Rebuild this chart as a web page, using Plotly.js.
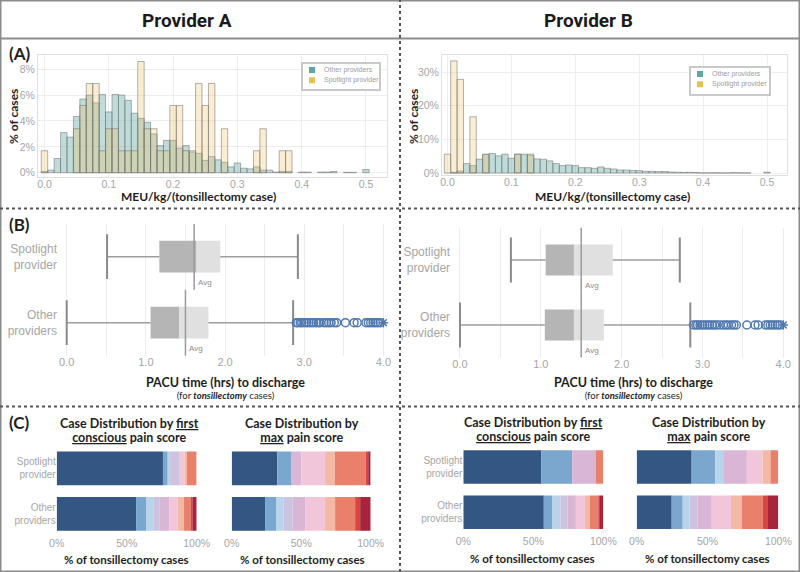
<!DOCTYPE html>
<html>
<head>
<meta charset="utf-8">
<script src="https://cdn.plot.ly/plotly-3.0.1.min.js"></script>
<style>
  body { margin: 0; background: #fff; }
  #chart { width: 800px; height: 572px; }
</style>
</head>
<body>
<div id="chart"></div>
<script>
// (A) MEU/kg histogram, bin centres and % of cases per bin
const binCenters = [0.00, 0.01, 0.02, 0.03, 0.04, 0.05, 0.06, 0.07, 0.08, 0.09,
    0.10, 0.11, 0.12, 0.13, 0.14, 0.15, 0.16, 0.17, 0.18, 0.19,
    0.20, 0.21, 0.22, 0.23, 0.24, 0.25, 0.26, 0.27, 0.28, 0.29,
    0.30, 0.31, 0.32, 0.33, 0.34, 0.35, 0.36, 0.37, 0.38, 0.39,
    0.40, 0.41, 0.42, 0.43, 0.44, 0.45, 0.46, 0.47, 0.48, 0.49, 0.50];

const histOtherA = [0.1, 0.2, 1.1, 3.1, 2.75, 4.35, 5.7, 6.0, 5.4, 6.05,
    4.7, 6.05, 6.0, 5.6, 4.6, 4.2, 3.9, 3.0, 2.1, 2.5,
    2.5, 1.9, 2.1, 1.6, 1.5, 0.95, 1.25, 1.0, 0.8, 0.45,
    0.75, 0.35, 0.3, 0.45, 0.2, 0.2, 0.05, 0.1, 0.1, 0,
    0.05, 0.05, 0, 0.05, 0.05, 0.1, 0, 0.03, 0.03, 0, 0.25];
const histSpotA = [1.7, 0, 0, 0, 0, 3.4, 5.2, 6.9, 6.9, 1.7,
    3.4, 3.4, 1.7, 1.7, 1.7, 8.6, 3.4, 3.4, 1.7, 1.7,
    5.2, 5.2, 1.7, 1.7, 6.9, 5.2, 6.9, 0, 3.4, 0,
    0, 0, 0, 1.7, 3.4, 0, 0, 1.7, 1.7, 0,
    0, 0, 0, 0, 0, 0, 0, 0, 0, 0, 0];

const histOtherB = [0, 0.2, 0.6, 2.8, 2.2, 4.1, 5.5, 5.8, 5.1, 5.6,
    4.4, 5.6, 5.6, 5.3, 4.2, 4.1, 3.6, 2.8, 2.2, 2.4,
    2.2, 1.6, 1.6, 1.4, 1.8, 1.4, 1.2, 0.9, 0.9, 0.75,
    0.7, 0.5, 0.5, 0.4, 0.45, 0.3, 0.25, 0.2, 0.2, 0.15,
    0.05, 0.05, 0.05, 0.03, 0.05, 0.1, 0.03, 0.03, 0, 0, 0.25];
const histSpotB = [5.6, 33.3, 27.8, 0, 16.7, 0, 5.6, 0, 0, 0,
    0, 5.6, 0, 5.6, 0, 0, 0, 0, 0, 0,
    0, 0, 0, 0, 0, 0, 0, 0, 0, 0,
    0, 0, 0, 0, 0, 0, 0, 0, 0, 0,
    0, 0, 0, 0, 0, 0, 0, 0, 0, 0, 0];
const histSeries = ['Other providers', 'Spotlight provider'];

// (B) PACU time, rows are [Other providers, Spotlight provider]
const boxRows = ['Other<br>providers', 'Spotlight<br>provider'];
const lowA = [0.0, 0.51];
const q1A = [1.06, 1.17];
const medA = [1.42, 1.64];
const q3A = [1.79, 1.94];
const highA = [2.86, 2.92];
const avgA = [1.50, 1.61];
const lowB = [0.0, 0.63];
const q1B = [1.05, 1.06];
const medB = [1.41, 1.41];
const q3B = [1.78, 1.89];
const highB = [2.85, 2.72];
const avgB = [1.50, 1.50];
const outliersA = [2.90, 2.92, 2.95, 2.97, 3.00, 3.03, 3.06, 3.09, 3.12, 3.15, 3.18, 3.20,
    3.25, 3.28, 3.31, 3.34, 3.38, 3.41, 3.52, 3.63, 3.67, 3.78, 3.81, 3.84, 3.87, 3.90, 3.93, 3.96];
const outliersB = [2.89, 2.92, 2.94, 2.97, 3.00, 3.03, 3.06, 3.09, 3.12, 3.15, 3.18, 3.22,
    3.26, 3.29, 3.32, 3.36, 3.39, 3.42, 3.55, 3.65, 3.69, 3.78, 3.81, 3.84, 3.87, 3.90, 3.93, 3.96];
const beyondA = [4.0];
const beyondB = [4.0];

// (C) pain score distribution, % of cases per score level
const painColors = ['#345682', '#7ba6cd', '#b8d4ea', '#cbc3e0', '#d9b5d6',
    '#f2c6da', '#f4b9a5', '#e8806b', '#d8463f', '#a6243c'];
const firstOtherA = [56.7, 7.1, 5.2, 4.3, 7.1, 6.0, 4.5, 5.0, 1.0, 3.1];
const firstSpotA = [75.9, 3.4, 1.7, 6.9, 0, 3.4, 1.7, 6.9, 0, 0];
const maxOtherA = [24.0, 7.9, 5.3, 6.7, 8.9, 14.4, 7.2, 14.4, 3.6, 7.6];
const maxSpotA = [32.8, 10.3, 0, 0, 6.9, 17.2, 6.9, 22.4, 1.7, 1.7];
const firstOtherB = [57.5, 6.2, 5.7, 5.0, 6.0, 6.4, 3.6, 6.0, 0.7, 2.9];
const firstSpotB = [55.6, 22.2, 0, 0, 16.7, 0, 0, 5.5, 0, 0];
const maxOtherB = [24.7, 7.8, 4.7, 5.9, 9.9, 13.6, 7.5, 14.8, 3.3, 7.8];
const maxSpotB = [38.8, 16.7, 5.6, 0, 16.7, 11.1, 5.6, 5.5, 0, 0];

const config = {
    displayModeBar: false,
    staticPlot: true
}

const W = 800, H = 572;
function px(x) { return x / W; }
function py(y) { return 1 - y / H; }

const gray = '#a6a6a6';
const sansFont = 'Liberation Sans, Arial, sans-serif';
const tickFont = { family: sansFont, color: gray };
const swatchColors = ['#5fa9a5', '#e8c24c'];

function histTraces(other, spot, xa, ya) {
    var teal = {
        type: 'bar', name: histSeries[0], x: binCenters, y: other.map(v => v > 0 ? v : null),
        xaxis: xa, yaxis: ya, width: 0.01, showlegend: false, hoverinfo: 'skip',
        marker: { color: 'rgba(94,168,166,0.40)', line: { color: 'rgba(115,115,115,0.55)', width: 1 } }
    }
    var gold = {
        type: 'bar', name: histSeries[1], x: binCenters, y: spot.map(v => v > 0 ? v : null),
        xaxis: xa, yaxis: ya, width: 0.01, showlegend: false, hoverinfo: 'skip',
        marker: { color: 'rgba(240,188,88,0.27)', line: { color: 'rgba(115,115,115,0.55)', width: 1 } }
    }
    return [teal, gold];
}

// small framed legend like the original (box, two swatches, two labels)
function legendBox(x0, y0, x1, y1) {
    var shapes = [{
        type: 'rect', xref: 'paper', yref: 'paper', x0: px(x0), x1: px(x1), y0: py(y1), y1: py(y0),
        fillcolor: '#ffffff', line: { color: '#c9c9c9', width: 2 }
    }];
    var notes = [];
    histSeries.forEach((name, i) => {
        var yc = y0 + 7 + i * 10.3;
        shapes.push({
            type: 'rect', xref: 'paper', yref: 'paper', x0: px(x0 + 7), x1: px(x0 + 13),
            y0: py(yc + 3), y1: py(yc - 3), fillcolor: swatchColors[i], line: { width: 0 }
        });
        notes.push({
            xref: 'paper', yref: 'paper', x: px(x0 + 20), y: py(yc), text: name, showarrow: false,
            xanchor: 'left', yanchor: 'middle', font: { family: sansFont, size: 7, color: '#9c9c9c' }
        });
    });
    return { shapes: shapes, notes: notes };
}

function boxTraces(low, q1, med, q3, high, avg, outl, beyond, xa, ya) {
    var rows = [0, 1];
    var common = { xaxis: xa, yaxis: ya, showlegend: false, hoverinfo: 'skip' };
    var dark = Object.assign({
        type: 'bar', orientation: 'h', y: rows, base: q1,
        x: q1.map((v, i) => med[i] - v), width: 0.48, marker: { color: '#b5b5b5' }
    }, common);
    var light = Object.assign({
        type: 'bar', orientation: 'h', y: rows, base: med,
        x: med.map((v, i) => q3[i] - v), width: 0.48, marker: { color: '#e0e0e0' }
    }, common);

    var wx = [], wy = [], ax = [], ay = [];
    rows.forEach(i => {
        wx.push(low[i], q1[i], null, q3[i], high[i], null);
        wy.push(i, i, null, i, i, null);
        ax.push(avg[i], avg[i], null);
        ay.push(i - 0.5, i + 0.5, null);
    });
    var whisk = Object.assign({
        type: 'scatter', mode: 'lines', x: wx, y: wy, line: { color: '#9d9d9d', width: 1.5 }
    }, common);
    var caps = Object.assign({
        type: 'scatter', mode: 'markers', x: low.concat(high), y: rows.concat(rows),
        marker: { symbol: 'line-ns', size: 32, line: { color: '#8a8a8a', width: 2 } }
    }, common);
    var avgLine = Object.assign({
        type: 'scatter', mode: 'lines', x: ax, y: ay, line: { color: '#9a9a9a', width: 1.5 }
    }, common);
    var dots = Object.assign({
        type: 'scatter', mode: 'markers', x: outl, y: outl.map(() => 0),
        marker: { symbol: 'circle-open', size: 8, color: '#5079b0', line: { width: 1.5 } }
    }, common);
    var star = Object.assign({
        type: 'scatter', mode: 'markers', x: beyond, y: beyond.map(() => 0),
        marker: { symbol: 'asterisk-open', size: 8, color: '#5079b0', line: { width: 1.5, color: '#5079b0' } }
    }, common);
    return [dark, light, whisk, caps, avgLine, dots, star];
}

function stackTraces(otherVals, spotVals, xa, ya) {
    var traces = [];
    var baseOther = 0, baseSpot = 0;
    painColors.forEach((c, j) => {
        traces.push({
            type: 'bar', orientation: 'h', y: [0, 1], x: [otherVals[j], spotVals[j]],
            base: [baseOther, baseSpot], width: 0.74, marker: { color: c, line: { width: 0 } },
            xaxis: xa, yaxis: ya, showlegend: false, hoverinfo: 'skip'
        });
        baseOther += otherVals[j];
        baseSpot += spotVals[j];
    });
    return traces;
}

function avgNotes(avg, xa, ya) {
    return [0, 1].map(i => ({
        xref: xa, yref: ya, x: avg[i], y: i - 0.5, text: 'Avg', showarrow: false,
        xanchor: 'left', yanchor: 'bottom', xshift: 2, yshift: 1,
        font: { family: sansFont, size: 8, color: '#8c8c8c' }
    }));
}

function note(text, x, y, size, extra) {
    return Object.assign({
        xref: 'paper', yref: 'paper', x: px(x), y: py(y), text: text, showarrow: false,
        xanchor: 'center', yanchor: 'middle',
        font: { family: 'Lato, sans-serif', size: size, color: '#1e1e1e' }
    }, extra || {});
}

// two-line title: line spacing follows the base size, each line keeps its own size
function twoLines(a, b, sizeA, sizeB) {
    return '<span style="font-size:' + sizeA + 'px">' + a + '</span><br>' +
        '<span style="font-size:' + sizeB + 'px">' + b + '</span>';
}

function histX(anchor, d0, d1, r0, r1) {
    return {
        anchor: anchor, domain: [px(d0), px(d1)], range: [r0, r1], tick0: 0, dtick: 0.1, tickformat: '.1f',
        showgrid: true, gridcolor: '#eeeeee', zeroline: false, showline: true, mirror: true,
        linecolor: '#e0e0e0', ticks: '', ticklabelstandoff: -3, tickfont: Object.assign({ size: 10.5 }, tickFont)
    };
}
function histY(anchor, d0, d1, r0, r1, step) {
    return {
        anchor: anchor, domain: [py(d1), py(d0)], range: [r0, r1], tick0: 0, dtick: step,
        ticksuffix: '%', showgrid: true, gridcolor: '#eeeeee', zeroline: false, showline: true,
        mirror: true, linecolor: '#e0e0e0', ticks: '', tickfont: Object.assign({ size: 10.5 }, tickFont)
    };
}
function boxX(anchor, d0, d1) {
    return {
        anchor: anchor, domain: [px(d0), px(d1)], range: [-0.11, 4.08], tick0: 0, dtick: 1, tickformat: '.1f',
        showgrid: true, gridcolor: '#ececec', minor: { dtick: 0.5, showgrid: true, gridcolor: '#ececec' },
        zeroline: false, ticks: '', ticklabelstandoff: -2, tickfont: Object.assign({ size: 11 }, tickFont)
    };
}
function boxY(anchor, d0, d1) {
    return {
        anchor: anchor, domain: [py(d1), py(d0)], range: [-0.5, 1.5], tickvals: [0, 1], ticktext: boxRows,
        showgrid: false, zeroline: false, ticks: '', tickfont: Object.assign({ size: 12 }, tickFont)
    };
}
function stackX(anchor, d0, d1) {
    return {
        anchor: anchor, domain: [px(d0), px(d1)], range: [0, 100], tickvals: [0, 50, 100],
        ticktext: ['0%', '50%', '100%'], showgrid: false, zeroline: false, ticks: '',
        ticklabelstandoff: -1, tickfont: Object.assign({ size: 10.5 }, tickFont)
    };
}
function stackY(anchor, d0, d1, labels) {
    return {
        anchor: anchor, domain: [py(d1), py(d0)], range: [-0.5, 1.5], tickvals: [0, 1], ticktext: boxRows,
        showticklabels: labels, showgrid: false, zeroline: false, ticks: '',
        tickfont: Object.assign({ size: 10 }, tickFont)
    };
}

var data = [].concat(
    histTraces(histOtherA, histSpotA, 'x', 'y'),
    histTraces(histOtherB, histSpotB, 'x2', 'y2'),
    boxTraces(lowA, q1A, medA, q3A, highA, avgA, outliersA, beyondA, 'x3', 'y3'),
    boxTraces(lowB, q1B, medB, q3B, highB, avgB, outliersB, beyondB, 'x4', 'y4'),
    stackTraces(firstOtherA, firstSpotA, 'x5', 'y5'),
    stackTraces(maxOtherA, maxSpotA, 'x6', 'y6'),
    stackTraces(firstOtherB, firstSpotB, 'x7', 'y7'),
    stackTraces(maxOtherB, maxSpotB, 'x8', 'y8')
);

var legA = legendBox(302, 63, 380, 90);
var legB = legendBox(690, 67, 770, 95);
var dotted = { color: '#555555', width: 2, dash: 'dot' };

var pacuTitle = twoLines('<b>PACU time (hrs) to discharge</b>', '(for <b><i>tonsillectomy</i></b> cases)', 12.5, 9.5);
var firstTitle = twoLines('<b>Case Distribution by <u>first</u></b>', '<b><u>conscious</u> pain score</b>', 12.5, 12.5);
var maxTitle = twoLines('<b>Case Distribution by</b>', '<b><u>max</u> pain score</b>', 12.5, 12.5);

const layout = {
    width: W, height: H,
    margin: { l: 0, r: 0, t: 0, b: 0 },
    paper_bgcolor: '#ffffff', plot_bgcolor: '#ffffff',
    barmode: 'overlay',
    showlegend: false,
    xaxis: histX('y', 38, 387, -0.0101, 0.5327),
    yaxis: histY('x', 55, 177, -0.33, 9.1, 2),
    xaxis2: histX('y2', 442, 787, -0.0086, 0.5313),
    yaxis2: histY('x2', 55, 175, -0.59, 35.05, 10),
    xaxis3: boxX('y3', 58, 389.7),
    yaxis3: boxY('x3', 223.7, 355.7),
    xaxis4: boxX('y4', 451.1, 789.7),
    yaxis4: boxY('x4', 227.5, 357.5),
    xaxis5: stackX('y5', 56.7, 196.7),
    yaxis5: stackY('x5', 445.6, 536.6, true),
    xaxis6: stackX('y6', 231.7, 370.7),
    yaxis6: stackY('x6', 445.6, 536.6, false),
    xaxis7: stackX('y7', 463.3, 603.3),
    yaxis7: stackY('x7', 444.3, 534.8, true),
    xaxis8: stackX('y8', 636.7, 778.3),
    yaxis8: stackY('x8', 444.3, 534.8, false),
    shapes: [
        { type: 'rect', xref: 'paper', yref: 'paper', x0: 0, x1: 1, y0: 0, y1: 1, line: { color: '#8c8c8c', width: 3 } },
        { type: 'line', xref: 'paper', yref: 'paper', x0: 0, x1: 1, y0: py(38.5), y1: py(38.5), line: { color: '#8c8c8c', width: 2 } },
        { type: 'line', xref: 'paper', yref: 'paper', x0: 0.5, x1: 0.5, y0: 0, y1: 1, line: dotted },
        { type: 'line', xref: 'paper', yref: 'paper', x0: 0, x1: 1, y0: py(208.5), y1: py(208.5), line: dotted },
        { type: 'line', xref: 'paper', yref: 'paper', x0: 0, x1: 1, y0: py(406.5), y1: py(406.5), line: dotted }
    ].concat(legA.shapes, legB.shapes),
    annotations: [
        note('<b>Provider A</b>', 187, 20, 19, { font: { family: 'Roboto, sans-serif', size: 19, color: '#1a1a1a' } }),
        note('<b>Provider B</b>', 588, 20, 19, { font: { family: 'Roboto, sans-serif', size: 19, color: '#1a1a1a' } }),
        note('<b>(A)</b>', 7, 54, 17, { xanchor: 'left' }),
        note('<b>(B)</b>', 7, 224.5, 17, { xanchor: 'left' }),
        note('<b>(C)</b>', 7, 422, 17, { xanchor: 'left' }),
        note('<b>% of cases</b>', 13, 117, 12, { textangle: -90 }),
        note('<b>% of cases</b>', 413, 117, 12, { textangle: -90 }),
        note('<b>MEU/kg/(tonsillectomy case)</b>', 198, 197, 12),
        note('<b>MEU/kg/(tonsillectomy case)</b>', 612, 197, 12),
        note(pacuTitle, 226, 388, 9),
        note(pacuTitle, 633, 388, 9),
        note(firstTitle, 129, 430.3, 10.8),
        note(maxTitle, 301.7, 430.3, 10.8),
        note(firstTitle, 533, 429.2, 10.8),
        note(maxTitle, 708.5, 429.2, 10.8),
        note('<b>% of tonsillectomy cases</b>', 126, 559.3, 11.5),
        note('<b>% of tonsillectomy cases</b>', 302.5, 559.3, 11.5),
        note('<b>% of tonsillectomy cases</b>', 532.5, 558.3, 11.5),
        note('<b>% of tonsillectomy cases</b>', 707.5, 558.3, 11.5)
    ].concat(avgNotes(avgA, 'x3', 'y3'), avgNotes(avgB, 'x4', 'y4'), legA.notes, legB.notes)
};

Plotly.newPlot('chart', data, layout, config);
</script>
</body>
</html>
